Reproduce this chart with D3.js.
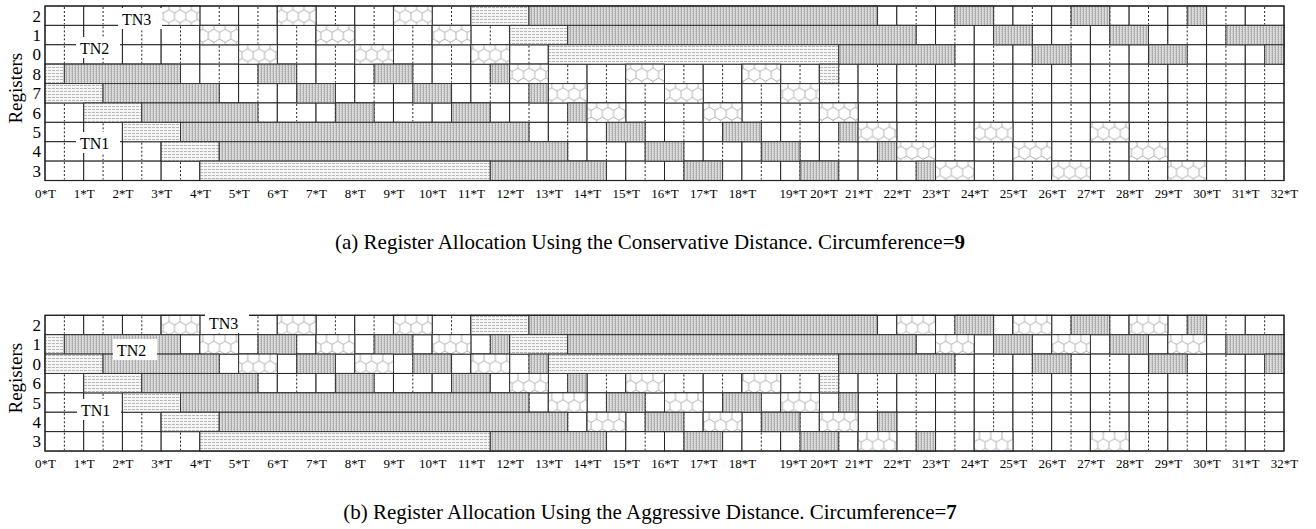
<!DOCTYPE html>
<html>
<head>
<meta charset="utf-8">
<script src="https://cdn.jsdelivr.net/npm/d3@7"></script>
<style>
  body { margin: 0; background: #fff; }
  svg { display: block; font-family: "Liberation Serif", "Times New Roman", serif; }
</style>
</head>
<body>
<div id="chart"></div>
<script>
// time axis: 0*T .. 32*T
const tMax = 32
const tickValues = d3.range(0, tMax + 1)

// registers from top to bottom
const regsA = ['2', '1', '0', '8', '7', '6', '5', '4', '3']
const regsB = ['2', '1', '0', '6', '5', '4', '3']

// lifetimes per register row: [start T, end T, fill]  (hex / dense / light)
// (a) conservative distance
const a2 = [[3, 4, 'hex'], [6, 7, 'hex'], [9, 10, 'hex'], [11, 12.5, 'light'], [12.5, 21.5, 'dense'], [23.5, 24.5, 'dense'], [26.5, 27.5, 'dense'], [29.5, 30, 'dense']]
const a1 = [[4, 5, 'hex'], [7, 8, 'hex'], [10, 11, 'hex'], [12, 13.5, 'light'], [13.5, 22.5, 'dense'], [24.5, 25.5, 'dense'], [27.5, 28.5, 'dense'], [30.5, 32, 'dense']]
const a0 = [[5, 6, 'hex'], [8, 9, 'hex'], [11, 12, 'hex'], [13, 20.5, 'light'], [20.5, 23.5, 'dense'], [25.5, 26.5, 'dense'], [28.5, 29.5, 'dense'], [31.5, 32, 'dense']]
const a8 = [[0, 0.5, 'light'], [0.5, 3.5, 'dense'], [5.5, 6.5, 'dense'], [8.5, 9.5, 'dense'], [11.5, 12, 'dense'], [12, 13, 'hex'], [15, 16, 'hex'], [18, 19, 'hex'], [20, 20.5, 'light']]
const a7 = [[0, 1.5, 'light'], [1.5, 4.5, 'dense'], [6.5, 7.5, 'dense'], [9.5, 10.5, 'dense'], [12.5, 13, 'dense'], [13, 14, 'hex'], [16, 17, 'hex'], [19, 20, 'hex']]
const a6 = [[1, 2.5, 'light'], [2.5, 5.5, 'dense'], [7.5, 8.5, 'dense'], [10.5, 11.5, 'dense'], [13.5, 14, 'dense'], [14, 15, 'hex'], [17, 18, 'hex'], [20, 21, 'hex']]
const a5 = [[2, 3.5, 'light'], [3.5, 12.5, 'dense'], [14.5, 15.5, 'dense'], [17.5, 18.5, 'dense'], [20.5, 21, 'dense'], [21, 22, 'hex'], [24, 25, 'hex'], [27, 28, 'hex']]
const a4 = [[3, 4.5, 'light'], [4.5, 13.5, 'dense'], [15.5, 16.5, 'dense'], [18.5, 19.5, 'dense'], [21.5, 22, 'dense'], [22, 23, 'hex'], [25, 26, 'hex'], [28, 29, 'hex']]
const a3 = [[4, 11.5, 'light'], [11.5, 14.5, 'dense'], [16.5, 17.5, 'dense'], [19.5, 20.5, 'dense'], [22.5, 23, 'dense'], [23, 24, 'hex'], [26, 27, 'hex'], [29, 30, 'hex']]

// (b) aggressive distance
const b2 = [[3, 4, 'hex'], [6, 7, 'hex'], [9, 10, 'hex'], [11, 12.5, 'light'], [12.5, 21.5, 'dense'], [22, 23, 'hex'], [23.5, 24.5, 'dense'], [25, 26, 'hex'], [26.5, 27.5, 'dense'], [28, 29, 'hex'], [29.5, 30, 'dense']]
const b1 = [[0, 0.5, 'light'], [0.5, 3.5, 'dense'], [4, 5, 'hex'], [5.5, 6.5, 'dense'], [7, 8, 'hex'], [8.5, 9.5, 'dense'], [10, 11, 'hex'], [11.5, 12, 'dense'], [12, 13.5, 'light'], [13.5, 22.5, 'dense'], [23, 24, 'hex'], [24.5, 25.5, 'dense'], [26, 27, 'hex'], [27.5, 28.5, 'dense'], [29, 30, 'hex'], [30.5, 32, 'dense']]
const b0 = [[0, 1.5, 'light'], [1.5, 4.5, 'dense'], [5, 6, 'hex'], [6.5, 7.5, 'dense'], [8, 9, 'hex'], [9.5, 10.5, 'dense'], [11, 12, 'hex'], [12.5, 13, 'dense'], [13, 20.5, 'light'], [20.5, 23.5, 'dense'], [25.5, 26.5, 'dense'], [28.5, 29.5, 'dense'], [31.5, 32, 'dense']]
const b6 = [[1, 2.5, 'light'], [2.5, 5.5, 'dense'], [7.5, 8.5, 'dense'], [10.5, 11.5, 'dense'], [12, 13, 'hex'], [13.5, 14, 'dense'], [15, 16, 'hex'], [18, 19, 'hex'], [20, 20.5, 'light']]
const b5 = [[2, 3.5, 'light'], [3.5, 12.5, 'dense'], [13, 14, 'hex'], [14.5, 15.5, 'dense'], [16, 17, 'hex'], [17.5, 18.5, 'dense'], [19, 20, 'hex'], [20.5, 21, 'dense']]
const b4 = [[3, 4.5, 'light'], [4.5, 13.5, 'dense'], [14, 15, 'hex'], [15.5, 16.5, 'dense'], [17, 18, 'hex'], [18.5, 19.5, 'dense'], [20, 21, 'hex'], [21.5, 22, 'dense']]
const b3 = [[4, 11.5, 'light'], [11.5, 14.5, 'dense'], [16.5, 17.5, 'dense'], [19.5, 20.5, 'dense'], [21, 22, 'hex'], [22.5, 23, 'dense'], [24, 25, 'hex'], [27, 28, 'hex']]

const rowsA = [a2, a1, a0, a8, a7, a6, a5, a4, a3]
const rowsB = [b2, b1, b0, b6, b5, b4, b3]

const captionA = ['(a) Register Allocation Using the Conservative Distance. Circumference=', '9']
const captionB = ['(b) Register Allocation Using the Aggressive Distance. Circumference=', '7']

const width = 1316
const height = 529
const rowH = 19.39

const svg = d3.select('#chart').append('svg')
  .attr('width', width)
  .attr('height', height)

const x = d3.scaleLinear().domain([0, tMax]).range([45, 1284])

// fill patterns
const defs = svg.append('defs')

const hexR = 6.5
const hexW = Math.sqrt(3) * hexR
const hex = defs.append('pattern')
  .attr('id', 'hex')
  .attr('patternUnits', 'userSpaceOnUse')
  .attr('width', hexW)
  .attr('height', 3 * hexR)
hex.append('rect').attr('width', hexW).attr('height', 3 * hexR).attr('fill', '#fff')
hex.append('path')
  .attr('d', `M0,${hexR / 2} L${hexW / 2},0 L${hexW},${hexR / 2} L${hexW},${1.5 * hexR} L${hexW / 2},${2 * hexR} L0,${1.5 * hexR} Z M${hexW / 2},${2 * hexR} L${hexW / 2},${3 * hexR}`)
  .attr('fill', 'none')
  .attr('stroke', '#a0a0a0')
  .attr('stroke-width', 0.8)

const dense = defs.append('pattern')
  .attr('id', 'dense')
  .attr('patternUnits', 'userSpaceOnUse')
  .attr('width', 3)
  .attr('height', 2)
dense.append('rect').attr('width', 3).attr('height', 2).attr('fill', '#dcdcdc')
dense.append('rect').attr('x', 0).attr('width', 1).attr('height', 2).attr('fill', '#acacac')
dense.append('rect').attr('x', 2).attr('y', 1).attr('width', 1).attr('height', 1).attr('fill', '#c0c0c0')

const light = defs.append('pattern')
  .attr('id', 'light')
  .attr('patternUnits', 'userSpaceOnUse')
  .attr('width', 4)
  .attr('height', 3)
light.append('rect').attr('width', 4).attr('height', 3).attr('fill', '#f6f6f6')
light.append('rect').attr('y', 1).attr('width', 3).attr('height', 1).attr('fill', '#b8b8b8')

// hand-placed tick label nudges seen in the original figure
const tickNudge = { 19: 12, 20: 4 }

function drawPanel(top, regs, rows, caption, tnLabels) {
  const y = d3.scaleBand().domain(regs).range([top, top + regs.length * rowH])
  const bottom = top + regs.length * rowH
  const g = svg.append('g')

  // empty cells, one per T, with a dashed half-T line
  regs.forEach(r => {
    const row = g.append('g')
    row.selectAll('rect')
      .data(d3.range(0, tMax))
      .join('rect')
      .attr('x', t => x(t))
      .attr('y', y(r))
      .attr('width', x(1) - x(0))
      .attr('height', y.bandwidth())
      .attr('fill', '#fff')
      .attr('stroke', '#222')
      .attr('stroke-width', 1)
    row.selectAll('line')
      .data(d3.range(0, tMax))
      .join('line')
      .attr('x1', t => x(t + 0.5))
      .attr('x2', t => x(t + 0.5))
      .attr('y1', y(r) + 1)
      .attr('y2', y(r) + y.bandwidth() - 1)
      .attr('stroke', '#222')
      .attr('stroke-width', 1)
      .attr('stroke-dasharray', '2,2')
  })

  // lifetimes
  regs.forEach((r, i) => {
    g.append('g').selectAll('rect')
      .data(rows[i])
      .join('rect')
      .attr('x', d => x(d[0]))
      .attr('y', y(r))
      .attr('width', d => x(d[1]) - x(d[0]))
      .attr('height', y.bandwidth())
      .attr('fill', d => `url(#${d[2]})`)
      .attr('stroke', '#333')
      .attr('stroke-width', 1)
  })

  // frame
  g.append('rect')
    .attr('x', x(0)).attr('y', top)
    .attr('width', x(tMax) - x(0)).attr('height', bottom - top)
    .attr('fill', 'none').attr('stroke', '#222').attr('stroke-width', 1.2)

  // register numbers
  g.append('g').selectAll('text')
    .data(regs)
    .join('text')
    .attr('x', 41)
    .attr('y', r => y(r) + y.bandwidth() / 2)
    .attr('dy', '0.35em')
    .attr('text-anchor', 'end')
    .style('font-size', '17px')
    .text(r => r)

  g.append('text')
    .attr('transform', `translate(22,${(top + bottom) / 2 - 5}) rotate(-90)`)
    .attr('text-anchor', 'middle')
    .style('font-size', '19px')
    .text('Registers')

  // time axis
  const axis = g.append('g')
    .attr('transform', `translate(0,${bottom})`)
    .call(d3.axisBottom(x).tickValues(tickValues).tickSize(0).tickPadding(8).tickFormat(d => `${d}*T`))
  axis.select('.domain').remove()
  axis.selectAll('text')
    .attr('dx', d => tickNudge[d] || 0)
    .style('font-family', '"Liberation Serif", serif')
    .style('font-size', '13px')
    .attr('fill', '#000')

  // TN labels with white boxes
  tnLabels.forEach(l => {
    g.append('rect')
      .attr('x', l.x - 4).attr('y', l.y - 17)
      .attr('width', 44).attr('height', 21)
      .attr('fill', '#fff')
    g.append('text')
      .attr('x', l.x).attr('y', l.y)
      .style('font-size', '16px')
      .text(l.text)
  })

  // caption
  const cap = svg.append('text')
    .attr('x', 650)
    .attr('y', bottom + 68)
    .attr('text-anchor', 'middle')
    .style('font-size', '21px')
  cap.append('tspan').text(caption[0])
  cap.append('tspan').style('font-weight', 'bold').text(caption[1])
}

drawPanel(6, regsA, rowsA, captionA, [
  { text: 'TN3', x: 122, y: 25 },
  { text: 'TN2', x: 80, y: 54 },
  { text: 'TN1', x: 80, y: 149 }
])
drawPanel(315.3, regsB, rowsB, captionB, [
  { text: 'TN3', x: 209, y: 329 },
  { text: 'TN2', x: 117, y: 356 },
  { text: 'TN1', x: 81, y: 416 }
])
</script>
</body>
</html>
